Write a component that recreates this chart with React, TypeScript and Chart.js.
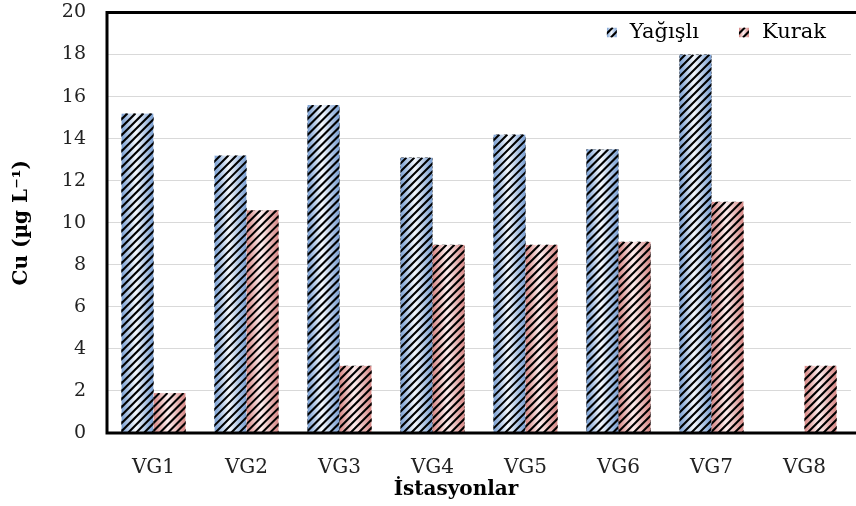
import React, { useEffect, useRef } from "react";
import { Chart, registerables } from "chart.js";

Chart.register(...registerables);

const categories = ["VG1", "VG2", "VG3", "VG4", "VG5", "VG6", "VG7", "VG8"];
const yagisli: (number | null)[] = [15.2, 13.2, 15.6, 13.1, 14.2, 13.5, 18.0, null];
const kurak: (number | null)[] = [1.9, 10.6, 3.2, 8.95, 8.95, 9.1, 11.0, 3.2];
const seriesNames = ["Yağışlı", "Kurak"];
const yTitle = "Cu (µg L⁻¹)";
const xTitle = "İstasyonlar";
const yMin = 0;
const yMax = 20;
const yStep = 2;

const edgeColors = ["rgb(120,158,210)", "rgb(214,134,132)"];
const centerColors = ["rgb(244,248,253)", "rgb(253,238,238)"];

const FONT = '"DejaVu Serif", "Liberation Serif", serif';

function fillHatched(
  ctx: CanvasRenderingContext2D,
  left: number,
  top: number,
  w: number,
  h: number,
  si: number
) {
  ctx.save();
  ctx.beginPath();
  ctx.rect(left, top, w, h);
  ctx.clip();
  const g = ctx.createLinearGradient(left, 0, left + w, 0);
  g.addColorStop(0, edgeColors[si]);
  g.addColorStop(0.45, centerColors[si]);
  g.addColorStop(1, edgeColors[si]);
  ctx.fillStyle = g;
  ctx.fillRect(left, top, w, h);
  ctx.strokeStyle = "#000";
  ctx.lineWidth = 2.1;
  ctx.beginPath();
  const bottom = top + h;
  for (let k = -h - 10; k < w + 10; k += 8) {
    ctx.moveTo(left + k, bottom);
    ctx.lineTo(left + k + h, top);
  }
  ctx.stroke();
  ctx.restore();
}

function makePattern(si: number): CanvasPattern | string {
  const c = document.createElement("canvas");
  c.width = 8;
  c.height = 8;
  const p = c.getContext("2d");
  if (!p) return edgeColors[si];
  p.fillStyle = centerColors[si];
  p.fillRect(0, 0, 8, 8);
  p.strokeStyle = "#000";
  p.lineWidth = 2.1;
  p.beginPath();
  for (let k = -8; k <= 16; k += 8) {
    p.moveTo(k, 8);
    p.lineTo(k + 8, 0);
  }
  p.stroke();
  const pat = p.createPattern(c, "repeat");
  return pat || edgeColors[si];
}

const barFillPlugin = {
  id: "barFill",
  afterDatasetsDraw(chart: any) {
    const ctx = chart.ctx as CanvasRenderingContext2D;
    chart.data.datasets.forEach((ds: any, di: number) => {
      const meta = chart.getDatasetMeta(di);
      meta.data.forEach((el: any, i: number) => {
        const v = ds.data[i];
        if (v == null) return;
        const { x, y, base, width } = el.getProps(["x", "y", "base", "width"], true);
        const left = x - width / 2;
        const top = Math.min(y, base);
        const h = Math.abs(base - y);
        fillHatched(ctx, left, top, width, h, di);
      });
    });
  },
};

const framePlugin = {
  id: "frame",
  afterDraw(chart: any) {
    const ctx = chart.ctx as CanvasRenderingContext2D;
    const { left, top, bottom } = chart.chartArea;
    ctx.save();
    ctx.strokeStyle = "#000";
    ctx.lineWidth = 3;
    ctx.beginPath();
    ctx.moveTo(left, top);
    ctx.lineTo(chart.width, top);
    ctx.moveTo(left, top - 1.5);
    ctx.lineTo(left, bottom + 1.5);
    ctx.moveTo(left, bottom);
    ctx.lineTo(chart.width, bottom);
    ctx.stroke();
    ctx.font = `bold 20px ${FONT}`;
    ctx.fillStyle = "#000";
    ctx.textAlign = "center";
    ctx.textBaseline = "middle";
    ctx.fillText(xTitle, 456, 490);
    ctx.restore();
  },
};

const legendPlugin = {
  id: "customLegend",
  afterDraw(chart: any) {
    const ctx = chart.ctx as CanvasRenderingContext2D;
    const { right, top } = chart.chartArea;
    ctx.save();
    ctx.font = `21px ${FONT}`;
    const box = 10;
    const gapBoxText = 13;
    const gapItems = 40;
    const names: string[] = chart.data.datasets.map((d: any) => d.label);
    const widths = names.map((n) => ctx.measureText(n).width);
    const total =
      widths.reduce((a, b) => a + b, 0) +
      names.length * (box + gapBoxText) +
      gapItems * (names.length - 1);
    let x = right - 25 - total;
    const y = top + 20;
    names.forEach((n, i) => {
      fillHatched(ctx, x, y - box / 2, box, box, i);
      ctx.fillStyle = "#000";
      ctx.textBaseline = "middle";
      ctx.textAlign = "left";
      ctx.fillText(n, x + box + gapBoxText, y);
      x += box + gapBoxText + widths[i] + gapItems;
    });
    ctx.restore();
  },
};

export default function App() {
  const ref = useRef<HTMLCanvasElement | null>(null);

  useEffect(() => {
    if (!ref.current) return;
    const chart = new Chart(ref.current, {
      type: "bar",
      data: {
        labels: categories,
        datasets: [
          {
            label: seriesNames[0],
            data: yagisli,
            backgroundColor: makePattern(0) as any,
            borderWidth: 0,
            categoryPercentage: 0.69,
            barPercentage: 1,
          },
          {
            label: seriesNames[1],
            data: kurak,
            backgroundColor: makePattern(1) as any,
            borderWidth: 0,
            categoryPercentage: 0.69,
            barPercentage: 1,
          },
        ],
      },
      options: {
        animation: false,
        responsive: true,
        maintainAspectRatio: false,
        layout: { padding: { top: 12.5, right: 5, left: 0, bottom: 0 } },
        plugins: {
          legend: { display: false },
          tooltip: { enabled: false },
        },
        scales: {
          x: {
            grid: { display: false, drawTicks: false },
            border: { display: false },
            ticks: {
              font: { family: FONT, size: 20 },
              color: "#222",
              padding: 23,
            },
            title: { display: false },
            afterFit: (scale: any) => {
              scale.height = 73;
              scale.paddingLeft = 0;
              scale.paddingRight = 0;
            },
          },
          y: {
            min: yMin,
            max: yMax,
            grid: { color: "#d9d9d9", lineWidth: 1, drawTicks: false },
            border: { display: false },
            ticks: {
              stepSize: yStep,
              font: { family: FONT, size: 19 },
              color: "#222",
              padding: 21,
            },
            title: {
              display: true,
              text: yTitle,
              font: { family: FONT, size: 20, weight: "bold" },
              color: "#000",
              padding: { top: 10, bottom: 0 },
            },
            afterFit: (scale: any) => {
              scale.width = 107;
              scale.paddingTop = 0;
              scale.paddingBottom = 0;
            },
          },
        },
      },
      plugins: [barFillPlugin, framePlugin, legendPlugin],
    });
    return () => chart.destroy();
  }, []);

  return (
    <div style={{ position: "absolute", left: 0, top: 0, width: 856, height: 506, background: "#fff" }}>
      <canvas ref={ref} />
    </div>
  );
}
